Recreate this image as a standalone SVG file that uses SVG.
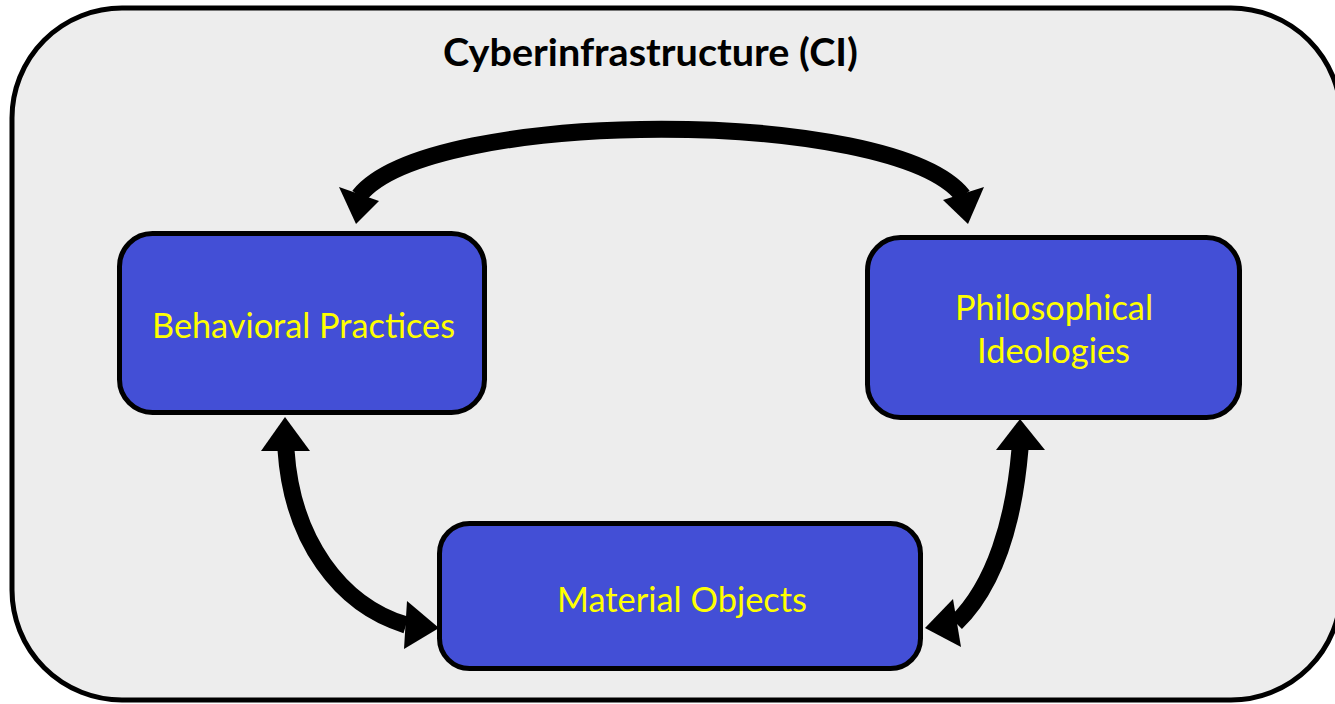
<svg xmlns="http://www.w3.org/2000/svg" width="1335" height="704" viewBox="0 0 1335 704">
  <style>
    .frame { fill: #EDEDED; stroke: #000; stroke-width: 5; }
    .node rect { fill: #434FD6; stroke: #000; stroke-width: 5; }
    .node text { fill: #FFFF00; font-family: Lato, "Open Sans", sans-serif; font-size: 35px; text-anchor: middle; }
    .title { fill: #000; font-family: Lato, "Open Sans", sans-serif; font-weight: bold; font-size: 38px; text-anchor: middle; }
    .conn path { fill: none; stroke: #000; stroke-width: 17; }
    .conn polygon { fill: #000; stroke: none; }
  </style>
  <rect width="1335" height="704" fill="#FFFFFF"/>
  <g id="ci">
    <rect class="frame" x="12" y="8" width="1329" height="692" rx="110" ry="110"/>
    <text class="title" x="650.5" y="66" textLength="415" lengthAdjust="spacingAndGlyphs">Cyberinfrastructure (CI)</text>
  </g>
  <g id="connectors" class="conn">
    <path d="M 359,196 C 430,107 893,107 963,196" stroke-width="16"/>
    <polygon points="339,187 379,201 356,224"/>
    <polygon points="984,187 943,200 968,224"/>
    <path d="M 286,450 C 292,540 340,605 406,625"/>
    <polygon points="285,417 261,451 310,451"/>
    <polygon points="439,628 407,601 404,649"/>
    <path d="M 1020,449 C 1014,520 995,585 956,623"/>
    <polygon points="1020,419 996,450 1045,450"/>
    <polygon points="925,628 953,599 961,647"/>
  </g>
  <g id="behavioral" class="node">
    <rect x="119.5" y="233.5" width="365" height="179" rx="33"/>
    <text x="303.5" y="338" textLength="303" lengthAdjust="spacingAndGlyphs">Behavioral Practices</text>
  </g>
  <g id="philosophical" class="node">
    <rect x="867.5" y="237.5" width="372" height="180" rx="33"/>
    <text x="1054" y="320" textLength="198" lengthAdjust="spacingAndGlyphs">Philosophical</text>
    <text x="1053.5" y="363" textLength="153" lengthAdjust="spacingAndGlyphs">Ideologies</text>
  </g>
  <g id="material" class="node">
    <rect x="439.5" y="523.5" width="481" height="145" rx="30"/>
    <text x="682" y="612" textLength="250" lengthAdjust="spacingAndGlyphs">Material Objects</text>
  </g>
</svg>
